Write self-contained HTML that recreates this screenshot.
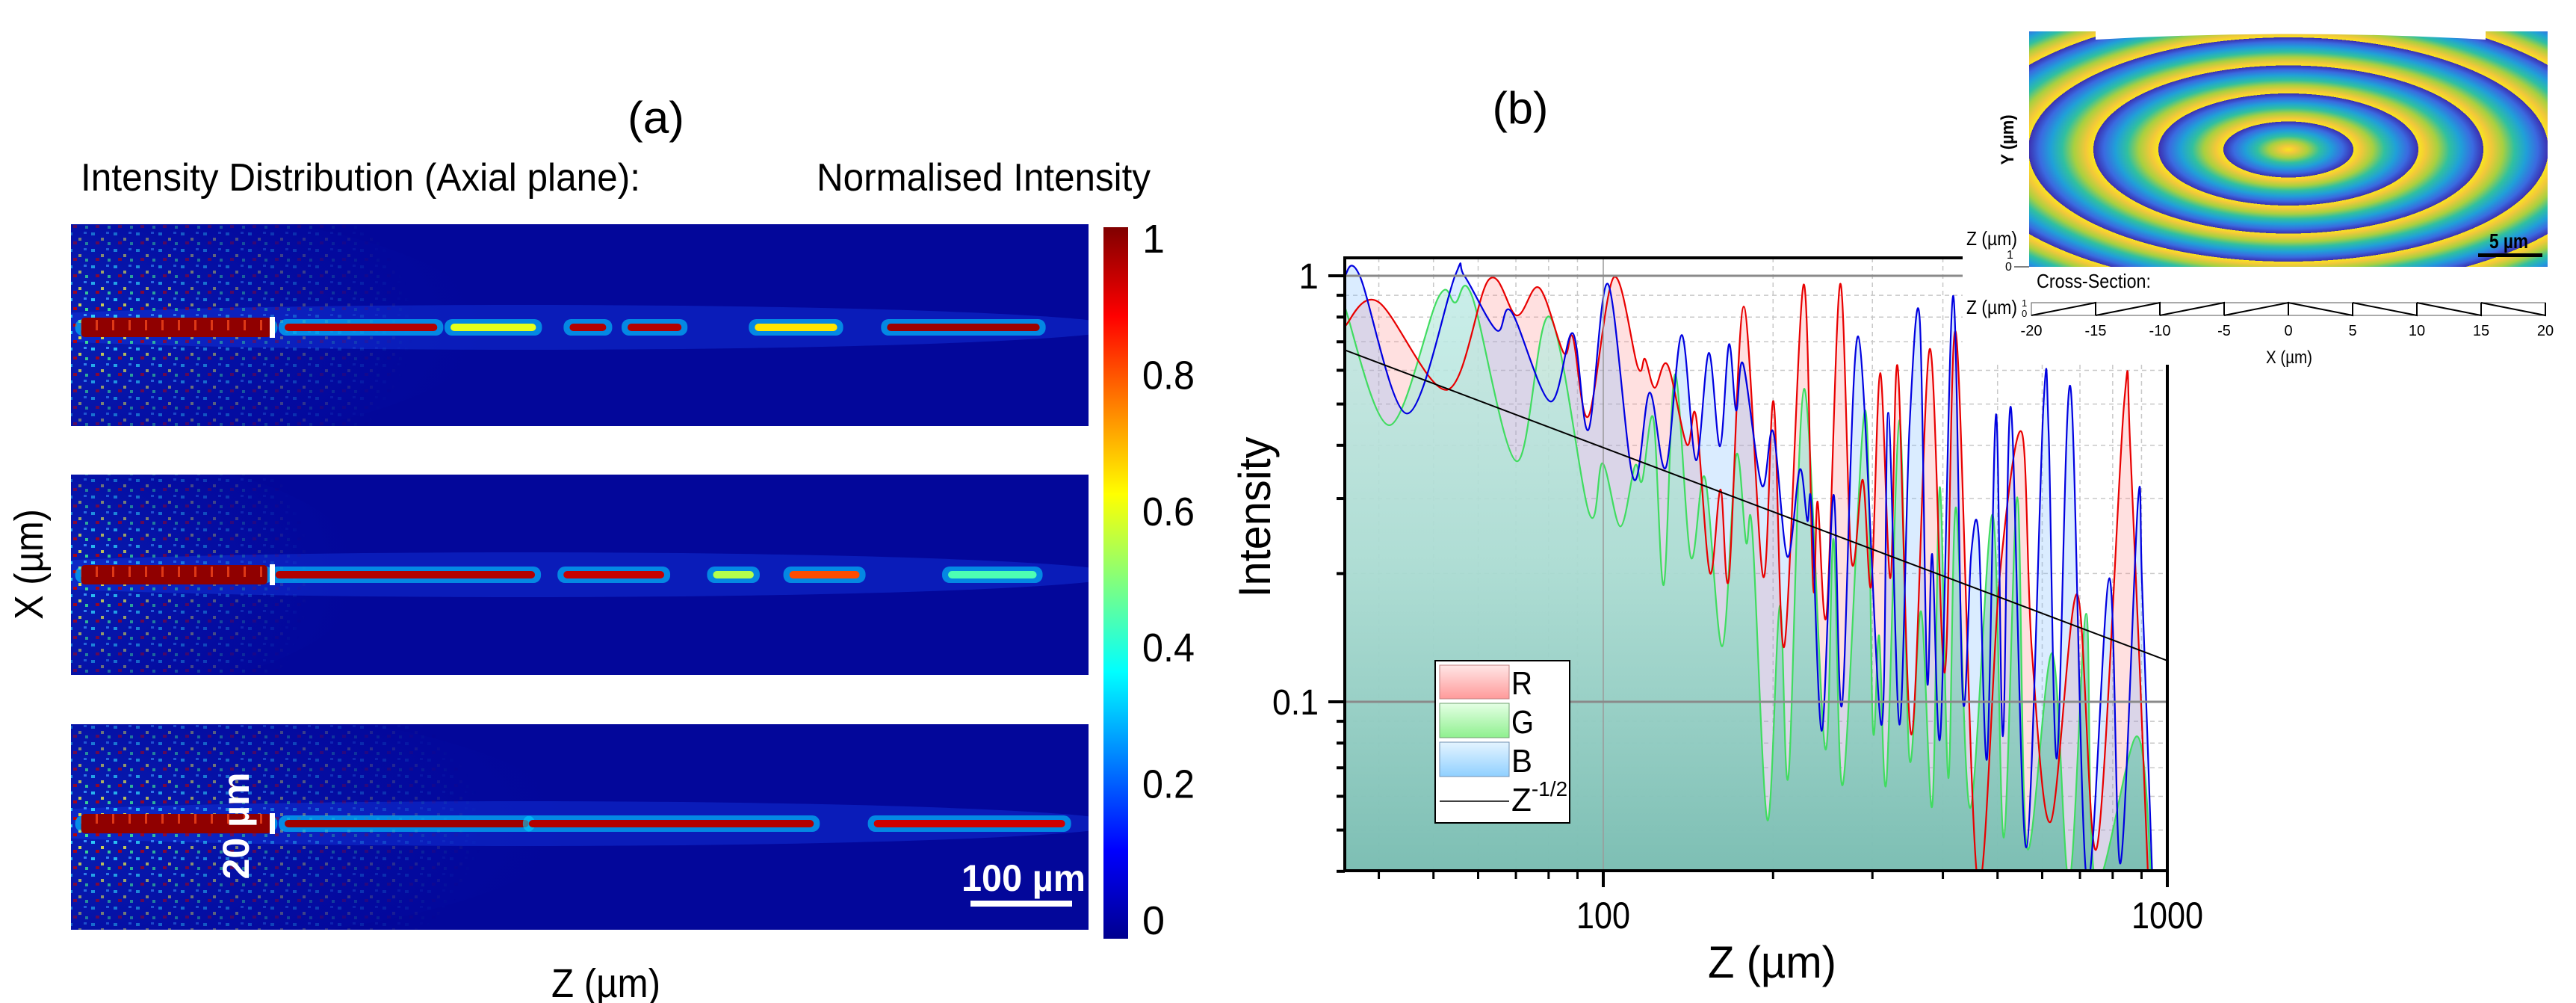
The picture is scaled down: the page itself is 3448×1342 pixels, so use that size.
<!DOCTYPE html>
<html><head><meta charset="utf-8"><style>
html,body{margin:0;padding:0;background:#fff;}
svg{display:block;font-family:"Liberation Sans",sans-serif;}
</style></head><body>
<svg id="fig" xmlns="http://www.w3.org/2000/svg" width="3448" height="1342" viewBox="0 0 3448 1342">
<defs>
  <linearGradient id="jetbar" x1="0" y1="1" x2="0" y2="0">
    <stop offset="0" stop-color="#00008f"/><stop offset="0.125" stop-color="#0000ff"/>
    <stop offset="0.375" stop-color="#00ffff"/><stop offset="0.625" stop-color="#ffff00"/>
    <stop offset="0.875" stop-color="#ff0000"/><stop offset="1" stop-color="#800000"/>
  </linearGradient>
  <linearGradient id="gfill" gradientUnits="userSpaceOnUse" x1="0" y1="345" x2="0" y2="1165">
    <stop offset="0" stop-color="rgb(200,240,228)" stop-opacity="0.75"/>
    <stop offset="0.5" stop-color="rgb(170,222,210)" stop-opacity="0.9"/>
    <stop offset="1" stop-color="rgb(122,190,178)" stop-opacity="0.97"/>
  </linearGradient>
  <linearGradient id="swR" x1="0" y1="0" x2="0" y2="1"><stop offset="0" stop-color="#ffe6e6"/><stop offset="1" stop-color="#ff9a9a"/></linearGradient>
  <linearGradient id="swG" x1="0" y1="0" x2="0" y2="1"><stop offset="0" stop-color="#e4ffe4"/><stop offset="1" stop-color="#8ff08f"/></linearGradient>
  <linearGradient id="swB" x1="0" y1="0" x2="0" y2="1"><stop offset="0" stop-color="#e4f4ff"/><stop offset="1" stop-color="#90d0ff"/></linearGradient>
  <radialGradient id="haze" cx="0" cy="0.5" r="1" fx="0" fy="0.5">
    <stop offset="0" stop-color="#30a0ff" stop-opacity="0.6"/>
    <stop offset="0.4" stop-color="#1860f0" stop-opacity="0.35"/>
    <stop offset="1" stop-color="#0010c0" stop-opacity="0"/>
  </radialGradient>
  <radialGradient id="fadeG" cx="0" cy="0.5" r="1" fx="0" fy="0.5">
    <stop offset="0" stop-color="#fff" stop-opacity="1"/>
    <stop offset="0.4" stop-color="#fff" stop-opacity="0.5"/>
    <stop offset="1" stop-color="#fff" stop-opacity="0"/>
  </radialGradient>
  <pattern id="speck" width="30" height="22" patternUnits="userSpaceOnUse">
    <rect x="2" y="3" width="5" height="4" fill="#30e0ff"/>
    <rect x="15" y="10" width="4" height="4" fill="#f0f040"/>
    <rect x="8" y="15" width="5" height="4" fill="#c00000"/>
    <rect x="22" y="2" width="4" height="3" fill="#40a0ff"/>
    <rect x="24" y="16" width="4" height="4" fill="#40f090"/>
  </pattern>
  <pattern id="beamdots" width="22" height="30" patternUnits="userSpaceOnUse">
    <rect x="0" y="0" width="22" height="30" fill="#900000"/>
    <rect x="18" y="8" width="3" height="14" fill="#ff5020" opacity="0.7"/>
  </pattern>
  <radialGradient id="rings" gradientUnits="userSpaceOnUse" cx="3063" cy="200" r="87" spreadMethod="repeat"
     gradientTransform="translate(3063,200) scale(1,0.431) translate(-3063,-200)">
    <stop offset="0" stop-color="#f9e51f"/><stop offset="0.12" stop-color="#f2c83a"/>
    <stop offset="0.3" stop-color="#a8d040"/><stop offset="0.48" stop-color="#30c0a0"/>
    <stop offset="0.66" stop-color="#20a0d8"/><stop offset="0.84" stop-color="#3a6ae0"/>
    <stop offset="1" stop-color="#3b2fb0"/>
  </radialGradient>
  <clipPath id="plotclip"><rect x="1800" y="345" width="1101" height="820"/></clipPath>
</defs>

<text x="878" y="178" font-size="60" text-anchor="middle" textLength="76" lengthAdjust="spacingAndGlyphs">(a)</text>
<text x="108" y="255" font-size="52" textLength="749" lengthAdjust="spacingAndGlyphs">Intensity Distribution (Axial plane):</text>
<text x="1093" y="255" font-size="52" textLength="447" lengthAdjust="spacingAndGlyphs">Normalised Intensity</text>
<text transform="translate(57,755) rotate(-90)" font-size="54" text-anchor="middle" textLength="148" lengthAdjust="spacingAndGlyphs">X (µm)</text>
<text x="811" y="1334" font-size="54" text-anchor="middle" textLength="146" lengthAdjust="spacingAndGlyphs">Z (µm)</text>
<g id="heatmaps"></g>
<rect x="1477" y="304" width="33" height="952" fill="url(#jetbar)"/>
<g id="cbticks"></g>

<text x="2035" y="165" font-size="60" text-anchor="middle" textLength="75" lengthAdjust="spacingAndGlyphs">(b)</text>
<g id="plotb"></g>
<text transform="translate(1700,692) rotate(-90)" font-size="60" text-anchor="middle" textLength="215" lengthAdjust="spacingAndGlyphs">Intensity</text>
<text x="2372" y="1308" font-size="60" text-anchor="middle" textLength="172" lengthAdjust="spacingAndGlyphs">Z (µm)</text>

<g>
  <rect x="1921" y="884" width="180" height="217" fill="#fff" stroke="#000" stroke-width="2"/>
  <rect x="1927" y="890" width="93" height="45" fill="url(#swR)" stroke="#c08080"/>
  <text x="2023" y="929" font-size="44" textLength="28" lengthAdjust="spacingAndGlyphs">R</text>
  <rect x="1927" y="941" width="93" height="46" fill="url(#swG)" stroke="#70a070"/>
  <text x="2023" y="981" font-size="44" textLength="30" lengthAdjust="spacingAndGlyphs">G</text>
  <rect x="1927" y="993" width="93" height="46" fill="url(#swB)" stroke="#7090b0"/>
  <text x="2023" y="1033" font-size="44" textLength="28" lengthAdjust="spacingAndGlyphs">B</text>
  <line x1="1927" y1="1072" x2="2020" y2="1072" stroke="#000" stroke-width="1.5"/>
  <text x="2023" y="1085" font-size="44">Z<tspan font-size="28" dy="-20">-1/2</tspan></text>
</g>

<g>
  <rect x="2627" y="0" width="821" height="488" fill="#fff"/>
  <rect x="2716" y="42" width="694" height="315" fill="url(#rings)"/>
  <path d="M2805 40 L3327 40 L3327 53 Q3066 38 2805 53 Z" fill="#fff"/>
  <text transform="translate(2695,187) rotate(-90)" font-size="24" font-weight="bold" text-anchor="middle" textLength="67" lengthAdjust="spacingAndGlyphs">Y (µm)</text>
  <text x="2632" y="328" font-size="26" textLength="68" lengthAdjust="spacingAndGlyphs">Z (µm)</text>
  <text x="2686" y="346" font-size="16">1</text><text x="2684" y="362" font-size="16">0</text>
  <line x1="2696" y1="357" x2="2716" y2="357" stroke="#000" stroke-width="1"/>
  <text x="3332" y="332" font-size="28" font-weight="bold" textLength="52" lengthAdjust="spacingAndGlyphs">5 µm</text>
  <rect x="3317" y="339" width="86" height="5" fill="#000"/>
  <text x="2726" y="385" font-size="26" textLength="153" lengthAdjust="spacingAndGlyphs">Cross-Section:</text>
  <text x="2632" y="420" font-size="26" textLength="68" lengthAdjust="spacingAndGlyphs">Z (µm)</text>
  <text x="2706" y="410" font-size="13">1</text><text x="2706" y="424" font-size="13">0</text>
  <g id="xsec"></g>
  <text x="3064" y="486" font-size="24" text-anchor="middle" textLength="62" lengthAdjust="spacingAndGlyphs">X (µm)</text>
</g>
</svg>
<script>
const zB = [34.8,37,44.9,54.6,56.7,64.7,68.7,80.5,88.3,94.1,101.9,113,120.8,129,137.7,146,153.8,161,167,172,177,191,200,212,223,230,234,244,256,265,283,311,320,335,349,364,375,383,396,417,434,449,463,479,497,511,528,562,603,616,637,673,720,789,826,887,902,938,944];
const iB = [1,1,0.475,1,1,0.745,0.824,0.507,0.733,0.435,0.957,0.335,0.532,0.354,0.726,0.369,0.659,0.398,0.69,0.483,0.621,0.322,0.431,0.219,0.351,0.266,0.289,0.0855,0.306,0.0985,0.721,0.0884,0.477,0.0884,0.439,0.79,0.113,0.222,0.0838,0.897,0.1016,0.222,0.245,0.0736,0.473,0.083,0.491,0.0455,0.493,0.43,0.0736,0.55,0.038,0.195,0.0418,0.295,0.188,0.0427,0.035];
const zR = [34.8,39.9,52.9,62.7,70.2,77,85.1,88.3,94.1,104.4,115.1,118.6,123.3,130,140.6,146,154.5,161.4,167,177.4,192,200.4,209.4,226.5,235.5,239.9,248.9,263,275.4,288.4,298.5,309.7,322.8,332.7,352,379,403,422,461,505,552,575,621,692,750,838,861,925];
const iR = [0.76,0.869,0.54,0.98,0.807,0.937,0.659,0.718,0.468,0.992,0.611,0.638,0.546,0.618,0.402,0.468,0.201,0.315,0.195,0.847,0.197,0.507,0.135,0.953,0.187,0.295,0.161,0.957,0.215,0.332,0.187,0.591,0.195,0.611,0.0838,0.673,0.117,0.733,0.038,0.2,0.429,0.133,0.0523,0.179,0.0455,0.499,0.378,0.038];
const zG = [34.8,41.8,51,54.6,58.5,70.2,80.3,94.4,99.7,107.2,113.8,117.2,122.7,128,134,142.9,151.4,162.5,172,179.1,183.7,195.4,205.6,213,227,247.2,256,266,291,300.6,308.3,317.7,335,349,366,383,395,409,422,447,490,513,542,564,625,670,718,746,883,938];
const iG = [0.847,0.446,0.889,0.865,0.897,0.367,0.801,0.277,0.363,0.258,0.358,0.33,0.462,0.188,0.587,0.219,0.336,0.135,0.378,0.237,0.252,0.0528,0.168,0.067,0.543,0.078,0.241,0.0641,0.483,0.0865,0.143,0.0649,0.458,0.0736,0.163,0.057,0.319,0.0662,0.286,0.0563,0.275,0.048,0.302,0.0455,0.13,0.038,0.161,0.038,0.083,0.038];
const powerCoef = 3.95;
const powerZ = [34.8, 1000];
const xMajor = [100, 1000];
const xMajorLabels = ["100", "1000"];
const xMinor = [40,50,60,70,80,90,200,300,400,500,600,700,800,900];
const yMajor = [1, 0.1];
const yMajorLabels = ["1", "0.1"];
const yMinor = [0.9,0.8,0.7,0.6,0.5,0.4,0.3,0.2,0.09,0.08,0.07,0.06,0.05,0.04];

const beamStart1 = [10,210,373,490,547,672,802];
const beamEnd1   = [197,360,457,526,600,753,952];
const beamLevel1 = [1,0.95,0.6,0.95,0.95,0.65,0.97];
const beamStart2 = [10,201,484,631,706,862];
const beamEnd2   = [193,456,583,671,775,949];
const beamLevel2 = [1,0.95,0.93,0.55,0.8,0.45];
const beamStart3 = [10,210,450,789];
const beamEnd3   = [197,450,730,977];
const beamLevel3 = [1,0.97,0.95,0.92];
const cbTicks = [1,0.8,0.6,0.4,0.2,0];
const cbLabels = ["1","0.8","0.6","0.4","0.2","0"];
const xsecX = [-20,-15,-10,-5,0,5,10,15,20];

const NS = "http://www.w3.org/2000/svg";
function mk(tag, attrs, parent){const e=document.createElementNS(NS,tag);for(const k in attrs)e.setAttribute(k,attrs[k]);parent.appendChild(e);return e;}

const xS = z => 2146 + 755*Math.log10(z/100);
const yS = v => 369 - 570*Math.log10(v);
const PL=1800, PR=2901, PT=345, PB=1165;

function smoothPath(pts){
  let d = "M"+pts[0][0].toFixed(1)+" "+pts[0][1].toFixed(1);
  for(let i=0;i<pts.length-1;i++){
    const p0=pts[Math.max(0,i-1)],p1=pts[i],p2=pts[i+1],p3=pts[Math.min(pts.length-1,i+2)];
    const c1x=p1[0]+(p2[0]-p0[0])/6,c1y=p1[1]+(p2[1]-p0[1])/6;
    const c2x=p2[0]-(p3[0]-p1[0])/6,c2y=p2[1]-(p3[1]-p1[1])/6;
    d+=" C"+c1x.toFixed(1)+" "+c1y.toFixed(1)+" "+c2x.toFixed(1)+" "+c2y.toFixed(1)+" "+p2[0].toFixed(1)+" "+p2[1].toFixed(1);
  }
  return d;
}

const plot = document.getElementById("plotb");
const grid = mk("g",{},plot);


xMinor.forEach(z=>{const l=mk("line",{x1:xS(z),x2:xS(z),y1:PT,y2:PB,stroke:"#c8c8c8","stroke-width":1.5,"stroke-dasharray":"6,5"},grid);
  
  });
yMinor.forEach(v=>{const l=mk("line",{x1:PL,x2:PR,y1:yS(v),y2:yS(v),stroke:"#c8c8c8","stroke-width":1.5,"stroke-dasharray":"6,5"},grid);
  
  });

const clipG = mk("g",{"clip-path":"url(#plotclip)"},plot);
function series(zs, vs, fill, stroke, name){
  const pts = zs.map((z,i)=>[xS(z), yS(vs[i])]);
  const d = smoothPath(pts);
  const f = mk("path",{d: d+" L"+pts[pts.length-1][0]+" "+(PB+5)+" L"+pts[0][0]+" "+(PB+5)+" Z", fill: fill, stroke:"none"},clipG);
  
  
  return {d, stroke, name};
}
const sR = series(zR,iR,"rgba(255,130,130,0.25)","#e80000","series-r");
const sB = series(zB,iB,"rgba(120,185,255,0.27)","#0000e0","series-b");
const sG = series(zG,iG,"url(#gfill)","#40dc60","series-g");
[sG,sR,sB].forEach(s=>{
  const p = mk("path",{d:s.d,fill:"none",stroke:s.stroke,"stroke-width":2.2},clipG);
  
  
});
xMajor.forEach(z=>{const l=mk("line",{x1:xS(z),x2:xS(z),y1:PT,y2:PB,stroke:"#9a9a9a","stroke-width":1.5},plot);
  
  });
yMajor.forEach(v=>{const l=mk("line",{x1:PL,x2:PR,y1:yS(v),y2:yS(v),stroke:"#8a8a8a","stroke-width":3},plot);
  
  });
const pl = mk("line",{x1:xS(powerZ[0]),y1:yS(powerCoef/Math.sqrt(powerZ[0])),x2:xS(powerZ[1]),y2:yS(powerCoef/Math.sqrt(powerZ[1])),stroke:"#000","stroke-width":2,"clip-path":"url(#plotclip)"},plot);


const ax = mk("g",{stroke:"#000","stroke-width":4,fill:"none"},plot);


mk("line",{x1:PL,y1:PT-2,x2:PL,y2:PB+2},ax);
mk("line",{x1:PL-2,y1:PB,x2:PR+2,y2:PB},ax);
mk("line",{x1:PL,y1:PT,x2:PR,y2:PT},ax);
mk("line",{x1:PR,y1:PT,x2:PR,y2:PB},ax);
yMajor.forEach((v,i)=>{mk("line",{x1:1778,x2:PL,y1:yS(v),y2:yS(v),stroke:"#000","stroke-width":4},plot);
  const t=mk("text",{x:1765,y:yS(v)+17,"font-size":48,"text-anchor":"end"},plot);t.textContent=yMajorLabels[i];
  
  
  if(yMajorLabels[i].length>1){t.setAttribute("textLength",62);t.setAttribute("lengthAdjust","spacingAndGlyphs");}});
yMinor.forEach(v=>mk("line",{x1:1789,x2:PL,y1:yS(v),y2:yS(v),stroke:"#000","stroke-width":4},plot));
xMajor.forEach((z,i)=>{mk("line",{x1:xS(z),x2:xS(z),y1:PB,y2:1187,stroke:"#000","stroke-width":4},plot);
  const t=mk("text",{x:xS(z),y:1242,"font-size":50,"text-anchor":"middle",textLength:xMajorLabels[i].length*24,lengthAdjust:"spacingAndGlyphs"},plot);t.textContent=xMajorLabels[i];
  
  });
xMinor.forEach(z=>mk("line",{x1:xS(z),x2:xS(z),y1:PB,y2:1176,stroke:"#000","stroke-width":3},plot));

// ---------- Heatmaps ----------
const jetStops=[[0,[0,0,143]],[0.125,[0,0,255]],[0.375,[0,255,255]],[0.625,[255,255,0]],[0.875,[255,0,0]],[1,[128,0,0]]];
function jet(v){for(let i=0;i<jetStops.length-1;i++){const a=jetStops[i],b=jetStops[i+1];if(v<=b[0]){const t=(v-a[0])/(b[0]-a[0]);return "rgb("+a[1].map((c,k)=>Math.round(c+(b[1][k]-c)*t)).join(",")+")";}}return "rgb(128,0,0)";}
const hm = document.getElementById("heatmaps");
const panels = [
  {top:300,h:270,beam:438,s:beamStart1,e:beamEnd1,l:beamLevel1,spread:1},
  {top:635,h:268,beam:769,s:beamStart2,e:beamEnd2,l:beamLevel2,spread:0.7},
  {top:969,h:275,beam:1102,s:beamStart3,e:beamEnd3,l:beamLevel3,spread:1.2}
];
const xP = um => 95 + um*1.362;
panels.forEach((p,pi)=>{
  const g = mk("g",{},hm);
  
  
  mk("rect",{x:95,y:p.top,width:1362,height:p.h,fill:"#03079a"},g);
  const cp = mk("clipPath",{id:"pc"+pi},g);
  mk("rect",{x:95,y:p.top,width:1362,height:p.h},cp);
  const mask = mk("mask",{id:"pm"+pi,maskUnits:"userSpaceOnUse",x:95,y:p.top,width:1362,height:p.h},g);
  mk("rect",{x:95,y:p.top,width:460*p.spread,height:p.h,fill:"url(#fadeG)"},mask);
  const inner = mk("g",{"clip-path":"url(#pc"+pi+")"},g);
  mk("ellipse",{cx:95,cy:p.beam,rx:560*p.spread,ry:p.h*0.6,fill:"url(#haze)"},inner);
  mk("ellipse",{cx:700,cy:p.beam,rx:800,ry:30,fill:"#1438e0","opacity":0.45},inner);
  const sp = mk("rect",{x:95,y:p.top,width:460*p.spread,height:p.h,fill:"url(#speck)",mask:"url(#pm"+pi+")"},inner);
  
  
  p.s.forEach((s,i)=>{
    const x1=xP(s),x2=xP(p.e[i]);
    const halo = mk("rect",{x:x1-8,y:p.beam-11,width:x2-x1+16,height:22,rx:10,fill:jet(0.33),opacity:0.6},inner);
    
    
    const core = mk("rect",{x:x1,y:p.beam-(i===0?13:5),width:x2-x1,height:(i===0?26:10),rx:5,fill:(i===0?"url(#beamdots)":jet(p.l[i]))},inner);
    
    
  });
  const mark = mk("rect",{x:361,y:p.beam-14,width:7,height:28,fill:"#fff"},g);
  
  
});
const sb = mk("rect",{x:1299,y:1205,width:136,height:8,fill:"#fff"},hm);


const sbt = mk("text",{x:1370,y:1192,"font-size":50,"font-weight":"bold",fill:"#fff","text-anchor":"middle",textLength:166,lengthAdjust:"spacingAndGlyphs"},hm);
sbt.textContent="100 µm";


const wt = mk("text",{transform:"translate(333,1105) rotate(-90)","font-size":50,"font-weight":"bold",fill:"#fff","text-anchor":"middle",textLength:143,lengthAdjust:"spacingAndGlyphs"},hm);
wt.textContent="20 µm";



const cbg = document.getElementById("cbticks");
const cbY = v => 1231 - v*(1231-319);
cbTicks.forEach((v,i)=>{
  const t = mk("text",{x:1529,y:cbY(v)+19,"font-size":54},cbg);
  t.textContent = cbLabels[i];
  if(cbLabels[i].length>1){t.setAttribute("textLength",70);t.setAttribute("lengthAdjust","spacingAndGlyphs");}
  
  
});

const xs = document.getElementById("xsec");
const xX = v => 3063 + v*17.2;
const XT=405, XB=422;
mk("rect",{x:2719,y:XT,width:688,height:XB-XT,fill:"none",stroke:"#555","stroke-width":1},xs);
let dx="";
for(let i=0;i<xsecX.length-1;i++){
  const a=xsecX[i], b=xsecX[i+1];
  if(b<=0){ dx += "M"+xX(a)+" "+XB+" L"+xX(b)+" "+XT+" L"+xX(b)+" "+XB+" "; }
  else { dx += "M"+xX(a)+" "+XT+" L"+xX(b)+" "+XB+" L"+xX(b)+" "+XT+" "; }
}
const spf = mk("path",{d:dx,fill:"none",stroke:"#000","stroke-width":2},xs);


xsecX.forEach(v=>{
  const t = mk("text",{x:xX(v),y:449,"font-size":20,"text-anchor":"middle"},xs);
  t.textContent = String(v);
  
  
});
</script>
</body></html>
